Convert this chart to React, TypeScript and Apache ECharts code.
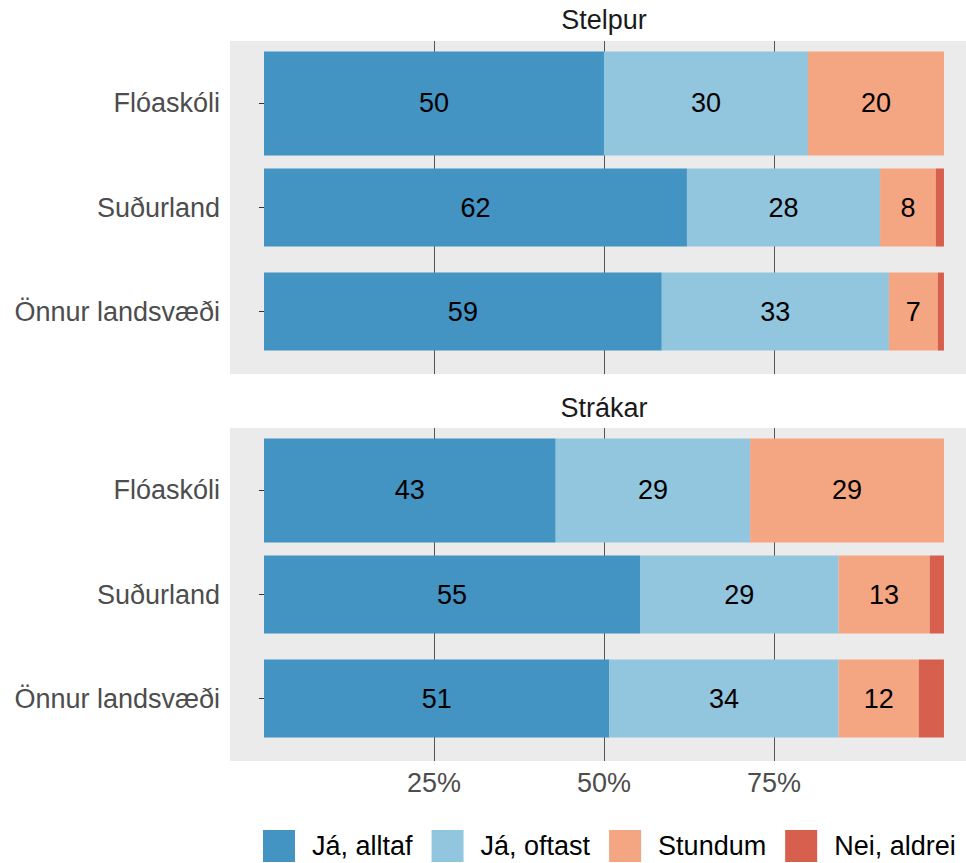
import React, { useEffect, useRef } from "react";
import * as echarts from "echarts";

const facets = ["Stelpur", "Strákar"];
const regions = ["Flóaskóli", "Suðurland", "Önnur landsvæði"];
const answers = ["Já, alltaf", "Já, oftast", "Stundum", "Nei, aldrei"];
const colors = ["#4393C3", "#92C5DE", "#F4A582", "#D6604D"];

// percentages per region, for each facet
const stelpurAlltaf = [50.0, 62.2, 58.5];
const stelpurOftast = [30.0, 28.4, 33.4];
const stelpurStundum = [20.0, 8.2, 7.2];
const stelpurAldrei = [0.0, 1.2, 0.9];

const strakarAlltaf = [42.9, 55.3, 50.8];
const strakarOftast = [28.6, 29.2, 33.7];
const strakarStundum = [28.5, 13.4, 11.8];
const strakarAldrei = [0.0, 2.1, 3.7];

const xTicks = [25, 50, 75];

const FONT = '"Liberation Sans", Arial, Helvetica, sans-serif';
// bar thickness in category units (first region drawn wider)
const barThickness = [1.0, 0.75, 0.75];

const facetData = [
  [stelpurAlltaf, stelpurOftast, stelpurStundum, stelpurAldrei],
  [strakarAlltaf, strakarOftast, strakarStundum, strakarAldrei],
];

function buildSeries() {
  const series: any[] = [];
  facetData.forEach((sets, g) => {
    const cum = regions.map(() => 0);
    sets.forEach((vals, a) => {
      const data = vals.map((v, r) => {
        const start = cum[r];
        cum[r] += v;
        return [start, start + v, r + 1, v, barThickness[r]];
      });
      series.push({
        type: "custom",
        name: answers[a],
        xAxisIndex: g,
        yAxisIndex: g,
        itemStyle: { color: colors[a] },
        encode: { x: [0, 1], y: 2 },
        data,
        renderItem: (params: any, api: any) => {
          const s = api.value(0);
          const e = api.value(1);
          const y = api.value(2);
          const v = api.value(3);
          const w = api.value(4);
          const p0 = api.coord([s, y]);
          const p1 = api.coord([e, y]);
          const h = Math.abs(api.size([0, w])[1]);
          const children: any[] = [
            {
              type: "rect",
              shape: { x: p0[0], y: p0[1] - h / 2, width: p1[0] - p0[0], height: h },
              style: { fill: api.visual("color") },
            },
          ];
          if (v >= 5) {
            children.push({
              type: "text",
              style: {
                text: String(Math.round(v)),
                x: (p0[0] + p1[0]) / 2,
                y: p0[1],
                align: "center",
                verticalAlign: "middle",
                fontSize: 27,
                fontFamily: FONT,
                fill: "#000000",
              },
            });
          }
          return { type: "group", children };
        },
      });
    });
  });
  return series;
}

export default function App() {
  const ref = useRef<HTMLDivElement>(null);
  useEffect(() => {
    document.body.style.margin = "0";
    const chart = echarts.init(ref.current!, undefined, { renderer: "svg" });
    const gridTops = [41, 428];
    const option: any = {
      animation: false,
      backgroundColor: "#ffffff",
      textStyle: { fontFamily: FONT },
      grid: gridTops.map((t) => ({
        left: 230,
        top: t,
        right: 0,
        height: 333,
        show: true,
        backgroundColor: "#EBEBEB",
        borderWidth: 0,
      })),
      xAxis: gridTops.map((_, g) => ({
        type: "value",
        gridIndex: g,
        min: -5,
        max: 103.24,
        axisLine: { show: false },
        axisTick: { show: false, customValues: xTicks },
        axisLabel: {
          show: g === 1,
          customValues: xTicks,
          formatter: (v: number) => `${v}%`,
          color: "#4D4D4D",
          fontSize: 27,
          fontFamily: FONT,
          margin: 8,
        },
        splitLine: { show: true, lineStyle: { color: "#555555", width: 1 } },
      })),
      yAxis: gridTops.map((_, g) => ({
        type: "value",
        gridIndex: g,
        min: 0.4,
        max: 3.6,
        inverse: true,
        axisLine: { show: false },
        axisTick: {
          show: true,
          customValues: [1, 2, 3],
          length: 5,
          lineStyle: { color: "#333333", width: 1 },
        },
        axisLabel: {
          customValues: [1, 2, 3],
          formatter: (v: number) => regions[Math.round(v) - 1] ?? "",
          color: "#4D4D4D",
          fontSize: 27,
          fontFamily: FONT,
          margin: 10,
        },
        splitLine: { show: false },
      })),
      legend: {
        data: answers,
        left: 258,
        top: 825,
        icon: "rect",
        itemWidth: 32,
        itemHeight: 32,
        itemGap: 19,
        textStyle: {
          fontSize: 27,
          fontFamily: FONT,
          color: "#000000",
          padding: [0, 0, 0, 12],
        },
        selectedMode: false,
      },
      graphic: facets.map((f, i) => ({
        type: "text",
        x: 604,
        y: [20, 408][i],
        style: {
          text: f,
          align: "center",
          verticalAlign: "middle",
          fontSize: 27,
          fontFamily: FONT,
          fill: "#1A1A1A",
        },
      })),
      series: buildSeries(),
    };
    chart.setOption(option);
    return () => chart.dispose();
  }, []);
  return <div ref={ref} style={{ width: 966, height: 863 }} />;
}
